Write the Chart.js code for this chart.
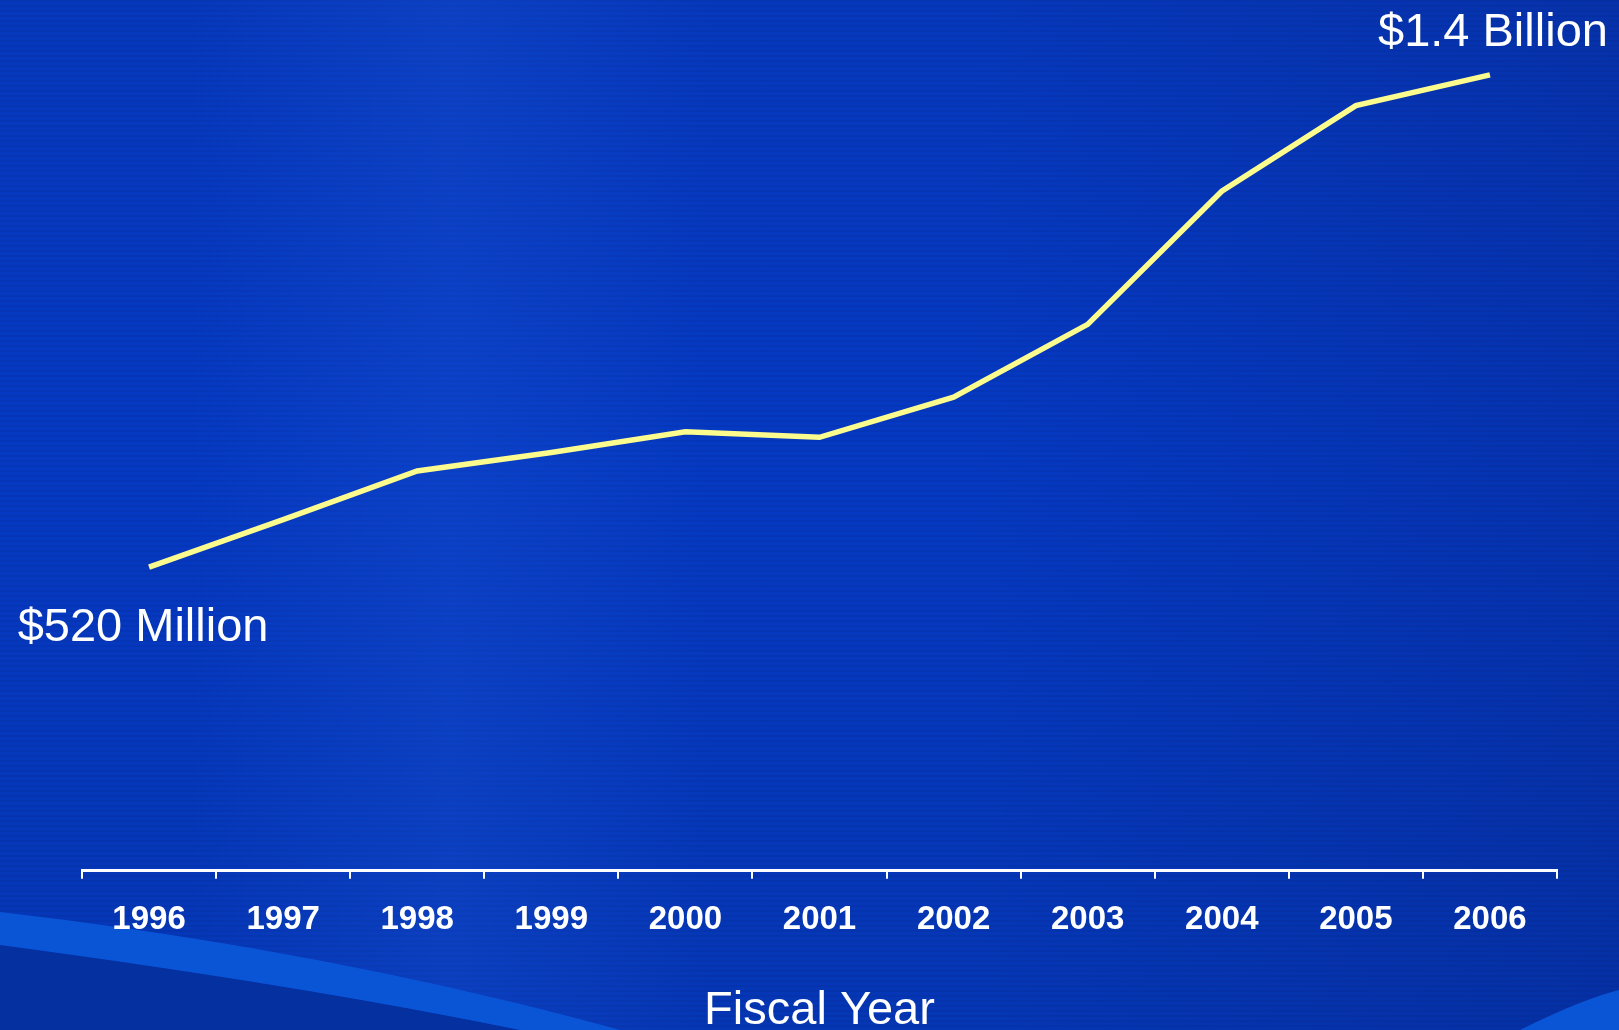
<!DOCTYPE html>
<html>
<head>
<meta charset="utf-8">
<title>Fiscal Year</title>
<script src="https://cdn.jsdelivr.net/npm/chart.js@4.4.1/dist/chart.umd.min.js"></script>
<style>
  html, body { margin: 0; padding: 0; }
  body {
    width: 1619px; height: 1030px; overflow: hidden; position: relative;
    background:
      repeating-linear-gradient(180deg, rgba(0,10,60,0.07) 0px, rgba(0,10,60,0.07) 2px, rgba(0,0,0,0) 2px, rgba(0,0,0,0) 5px),
      linear-gradient(90deg, rgba(0,0,0,0) 0%, rgba(0,0,0,0) 60%, rgba(5,20,90,0.18) 100%),
      linear-gradient(180deg, #0638bc 0%, #0539c2 45%, #0536b4 100%);
  }
  #deco { position: absolute; left: 0; top: 0; }
  #wrap { position: absolute; left: 0; top: 0; width: 1619px; height: 1030px; }
</style>
</head>
<body>
<svg id="deco" width="1619" height="1030">
  <defs>
    <linearGradient id="glow" x1="0" y1="0" x2="1" y2="0">
      <stop offset="0" stop-color="#1a55d8" stop-opacity="0"/>
      <stop offset="0.5" stop-color="#1a55d8" stop-opacity="0.3"/>
      <stop offset="1" stop-color="#1a55d8" stop-opacity="0"/>
    </linearGradient>
  </defs>
  <rect x="190" y="0" width="520" height="1030" fill="url(#glow)"/>
  <path d="M0 945 Q 300 985 520 1030 L 0 1030 Z" fill="#0530a0"/>
  <path d="M0 912 Q 330 950 620 1030 L 520 1030 Q 300 985 0 945 Z" fill="#0a55d6"/>
  <path d="M1520 1030 Q 1580 1000 1619 990 L 1619 1030 Z" fill="#0a55d6"/>
</svg>
<div id="wrap"><canvas id="myChart"></canvas></div>
<script>
var years = ['1996', '1997', '1998', '1999', '2000', '2001', '2002', '2003', '2004', '2005', '2006'];
var budget = [520, 605, 692, 725, 762, 752, 824, 954, 1192, 1345, 1400];
var startLabel = '$520 Million';
var endLabel = '$1.4 Billion';

var font = "'Liberation Sans', Arial, sans-serif";

// text at the first and last point of the line
var endLabels = {
  id: 'endLabels',
  afterDatasetsDraw: function (chart) {
    var pts = chart.getDatasetMeta(0).data;
    var first = pts[0];
    var last = pts[pts.length - 1];
    var c = chart.ctx;
    c.save();
    c.fillStyle = '#ffffff';
    c.font = '47px ' + font;
    c.textAlign = 'center';
    c.textBaseline = 'middle';
    c.fillText(startLabel, first.x - 6, first.y + 61);
    c.fillText(endLabel, last.x + 3, last.y - 42);
    c.restore();
  }
};

var ctx = document.getElementById('myChart');

var myChart = new Chart(ctx, {
  type: 'line',
  data: {
    labels: years,
    datasets: [
      {
        label: 'Budget',
        data: budget,
        borderColor: '#fbfb8e',
        borderWidth: 5.5,
        pointRadius: 0,
        fill: false,
        tension: 0
      }
    ]
  },
  options: {
    responsive: true,
    maintainAspectRatio: false,
    animation: false,
    layout: { padding: { left: 82, right: 62, top: 19, bottom: 0 } },
    plugins: {
      legend: { display: false },
      tooltip: { enabled: false }
    },
    scales: {
      y: { display: false, min: -23, max: 1500 },
      x: {
        offset: true,
        border: { display: true, color: '#ffffff', width: 3 },
        grid: {
          offset: true,
          drawOnChartArea: false,
          drawTicks: true,
          tickLength: 8,
          color: '#ffffff',
          lineWidth: 2
        },
        ticks: {
          color: '#ffffff',
          padding: 21,
          maxRotation: 0,
          font: { family: font, size: 33, weight: 'bold' }
        },
        title: {
          display: true,
          text: 'Fiscal Year',
          color: '#ffffff',
          font: { family: font, size: 47, lineHeight: 0.8 },
          padding: { top: 32, bottom: 0 }
        }
      }
    }
  },
  plugins: [endLabels]
});
</script>
</body>
</html>
